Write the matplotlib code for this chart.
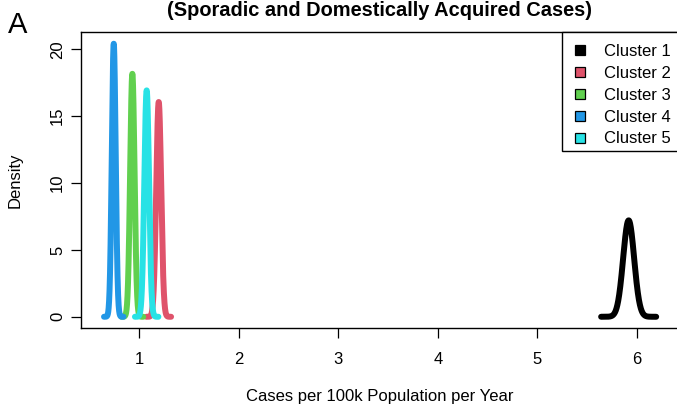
import numpy as np
import matplotlib
matplotlib.use("Agg")
import matplotlib.pyplot as plt
from matplotlib.patches import Rectangle

# Posterior densities of the incidence rate for each cluster
clusters = ["Cluster 1", "Cluster 2", "Cluster 3", "Cluster 4", "Cluster 5"]
colors = ["#000000", "#DF536B", "#61D04F", "#2297E6", "#28E2E5"]
modes = [5.918, 1.195, 0.930, 0.743, 1.074]      # cases per 100k per year
peaks = [7.21, 16.06, 18.17, 20.42, 16.93]       # density at the mode
x_ticks = [1, 2, 3, 4, 5, 6]
y_ticks = [0, 5, 10, 15, 20]

W, H = 677, 409
plt.rcParams["font.family"] = ["Liberation Sans", "DejaVu Sans"]
plt.rcParams["font.size"] = 12

fig = plt.figure(figsize=(W / 100, H / 100), dpi=100)
L, R, T, B = 81.3, 678.5, 31.7, 328.0
ax = fig.add_axes([L / W, 1 - B / H, (R - L) / W, (B - T) / H])


def fx(px):
    return px / W


def fy(py):
    return 1 - py / H


for m, p, c in zip(modes, peaks, colors):
    sd = 1.0 / (p * np.sqrt(2 * np.pi))
    x = np.linspace(m - 5 * sd, m + 5 * sd, 400)
    y = np.exp(-0.5 * ((x - m) / sd) ** 2) / (sd * np.sqrt(2 * np.pi))
    ax.plot(x, y, color=c, lw=4.3, solid_capstyle="round",
            solid_joinstyle="round")

ax.set_xlim(0.417, 6.419)
ax.set_ylim(-0.84, 21.32)
ax.set_xticks(x_ticks)
ax.set_xticklabels([str(v) for v in x_ticks])
ax.set_yticks(y_ticks)
ax.set_yticklabels([str(v) for v in y_ticks], rotation=90, va="center")
ax.tick_params(direction="out", length=7.2, width=0.9, labelsize=12,
               color="black")
ax.tick_params(axis="x", pad=10)
ax.tick_params(axis="y", pad=4.5)
for s in ax.spines.values():
    s.set_linewidth(1.0)
    s.set_color("black")

ax.set_xlabel("Cases per 100k Population per Year", fontsize=12)
ax.xaxis.set_label_coords(0.5, (B - 397) / (B - T))
ax.xaxis.label.set_va("center")
fig.text(fx(15), fy(180), "Density", rotation=90, ha="center", va="center",
         fontsize=12)

fig.text(fx(379.6), fy(15.5), "(Sporadic and Domestically Acquired Cases)",
         ha="center", va="baseline", fontsize=14.4, fontweight="bold")
fig.text(fx(8), fy(33), "A", ha="left", va="baseline", fontsize=21)

# Legend box in the upper right corner
lx0, ly0, ly1 = 561.7, 31.7, 150.7
fig.add_artist(Rectangle((fx(lx0), fy(ly1)), fx(690) - fx(lx0),
                         fy(ly0) - fy(ly1), transform=fig.transFigure,
                         facecolor="white", edgecolor="black", lw=1.0))
for i, (name, c) in enumerate(zip(clusters, colors)):
    cy = 49.5 + 22 * i
    fig.add_artist(Rectangle((fx(575), fy(cy + 5)), fx(10), 10 / H,
                             transform=fig.transFigure, facecolor=c,
                             edgecolor="black", lw=0.9))
    fig.text(fx(603.5), fy(cy + 6), name, ha="left", va="baseline",
             fontsize=12)

fig.savefig("out.png", dpi=100)
